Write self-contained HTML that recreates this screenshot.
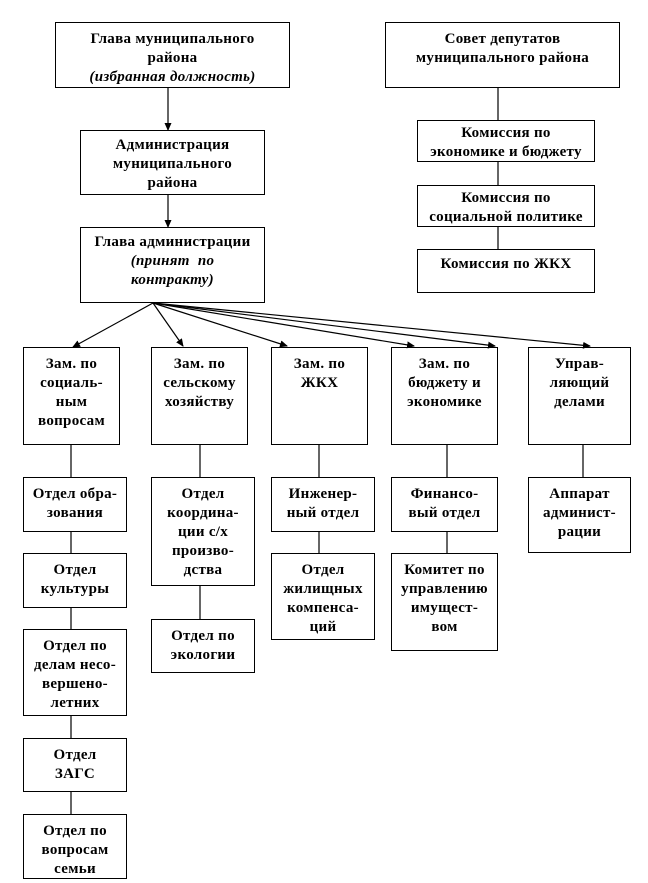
<!DOCTYPE html>
<html><head><meta charset="utf-8"><style>
body{margin:0;width:648px;height:883px;background:#fff;position:relative;overflow:hidden;font-family:"Liberation Serif",serif;}
.b{position:absolute;border:1.3px solid #000;box-sizing:border-box;text-align:center;font-weight:bold;font-size:15px;line-height:19px;padding-top:7px;letter-spacing:0.3px;color:#000;white-space:nowrap;}
i{font-weight:bold;}
svg{position:absolute;left:0;top:0;}
</style></head><body>
<svg width="648" height="883">
<defs><marker id="a" markerWidth="8" markerHeight="8" refX="7" refY="4" orient="auto" markerUnits="userSpaceOnUse"><path d="M0,0.5 L8,4 L0,7.5z" fill="#000"/></marker></defs>
<g stroke="#000" stroke-width="1.2" fill="none">
<line x1="168" y1="88" x2="168" y2="130" marker-end="url(#a)"/>
<line x1="168" y1="195" x2="168" y2="227" marker-end="url(#a)"/>
<line x1="498" y1="88" x2="498" y2="120"/>
<line x1="498" y1="162" x2="498" y2="185"/>
<line x1="498" y1="227" x2="498" y2="249"/>
<line x1="153" y1="303" x2="73" y2="347" marker-end="url(#a)"/>
<line x1="153" y1="303" x2="183" y2="346" marker-end="url(#a)"/>
<line x1="153" y1="303" x2="287" y2="346" marker-end="url(#a)"/>
<line x1="153" y1="303" x2="414" y2="346" marker-end="url(#a)"/>
<line x1="153" y1="303" x2="495" y2="346" marker-end="url(#a)"/>
<line x1="153" y1="303" x2="590" y2="346" marker-end="url(#a)"/>
<line x1="71" y1="445" x2="71" y2="477"/>
<line x1="71" y1="532" x2="71" y2="553"/>
<line x1="71" y1="608" x2="71" y2="629"/>
<line x1="71" y1="716" x2="71" y2="738"/>
<line x1="71" y1="792" x2="71" y2="814"/>
<line x1="200" y1="445" x2="200" y2="477"/>
<line x1="200" y1="586" x2="200" y2="619"/>
<line x1="319" y1="445" x2="319" y2="477"/>
<line x1="319" y1="532" x2="319" y2="553"/>
<line x1="447" y1="445" x2="447" y2="477"/>
<line x1="447" y1="532" x2="447" y2="553"/>
<line x1="583" y1="445" x2="583" y2="477"/>
</g></svg>
<div class="b" style="left:55px;top:22px;width:235px;height:66px;">Глава муниципального<br>района<br><i>(избранная должность)</i></div>
<div class="b" style="left:385px;top:22px;width:235px;height:66px;">Совет депутатов<br>муниципального района</div>
<div class="b" style="left:80px;top:130px;width:185px;height:65px;padding-top:5px;">Администрация<br>муниципального<br>района</div>
<div class="b" style="left:80px;top:227px;width:185px;height:76px;padding-top:5px;">Глава администрации<br><i>(принят&nbsp; по<br>контракту)</i></div>
<div class="b" style="left:417px;top:120px;width:178px;height:42px;padding-top:3px;">Комиссия по<br>экономике и бюджету</div>
<div class="b" style="left:417px;top:185px;width:178px;height:42px;padding-top:3px;">Комиссия по<br>социальной политике</div>
<div class="b" style="left:417px;top:249px;width:178px;height:44px;padding-top:5px;">Комиссия по ЖКХ</div>
<div class="b" style="left:23px;top:347px;width:97px;height:98px;">Зам. по<br>социаль-<br>ным<br>вопросам</div>
<div class="b" style="left:151px;top:347px;width:97px;height:98px;">Зам. по<br>сельскому<br>хозяйству</div>
<div class="b" style="left:271px;top:347px;width:97px;height:98px;">Зам. по<br>ЖКХ</div>
<div class="b" style="left:391px;top:347px;width:107px;height:98px;">Зам. по<br>бюджету и<br>экономике</div>
<div class="b" style="left:528px;top:347px;width:103px;height:98px;">Управ-<br>ляющий<br>делами</div>
<div class="b" style="left:23px;top:477px;width:104px;height:55px;">Отдел обра-<br>зования</div>
<div class="b" style="left:151px;top:477px;width:104px;height:109px;">Отдел<br>координа-<br>ции с/х<br>произво-<br>дства</div>
<div class="b" style="left:271px;top:477px;width:104px;height:55px;">Инженер-<br>ный отдел</div>
<div class="b" style="left:391px;top:477px;width:107px;height:55px;">Финансо-<br>вый отдел</div>
<div class="b" style="left:528px;top:477px;width:103px;height:76px;">Аппарат<br>админист-<br>рации</div>
<div class="b" style="left:23px;top:553px;width:104px;height:55px;">Отдел<br>культуры</div>
<div class="b" style="left:151px;top:619px;width:104px;height:54px;">Отдел по<br>экологии</div>
<div class="b" style="left:271px;top:553px;width:104px;height:87px;">Отдел<br>жилищных<br>компенса-<br>ций</div>
<div class="b" style="left:391px;top:553px;width:107px;height:98px;">Комитет по<br>управлению<br>имущест-<br>вом</div>
<div class="b" style="left:23px;top:629px;width:104px;height:87px;">Отдел по<br>делам несо-<br>вершено-<br>летних</div>
<div class="b" style="left:23px;top:738px;width:104px;height:54px;">Отдел<br>ЗАГС</div>
<div class="b" style="left:23px;top:814px;width:104px;height:65px;">Отдел по<br>вопросам<br>семьи</div>
</body></html>
